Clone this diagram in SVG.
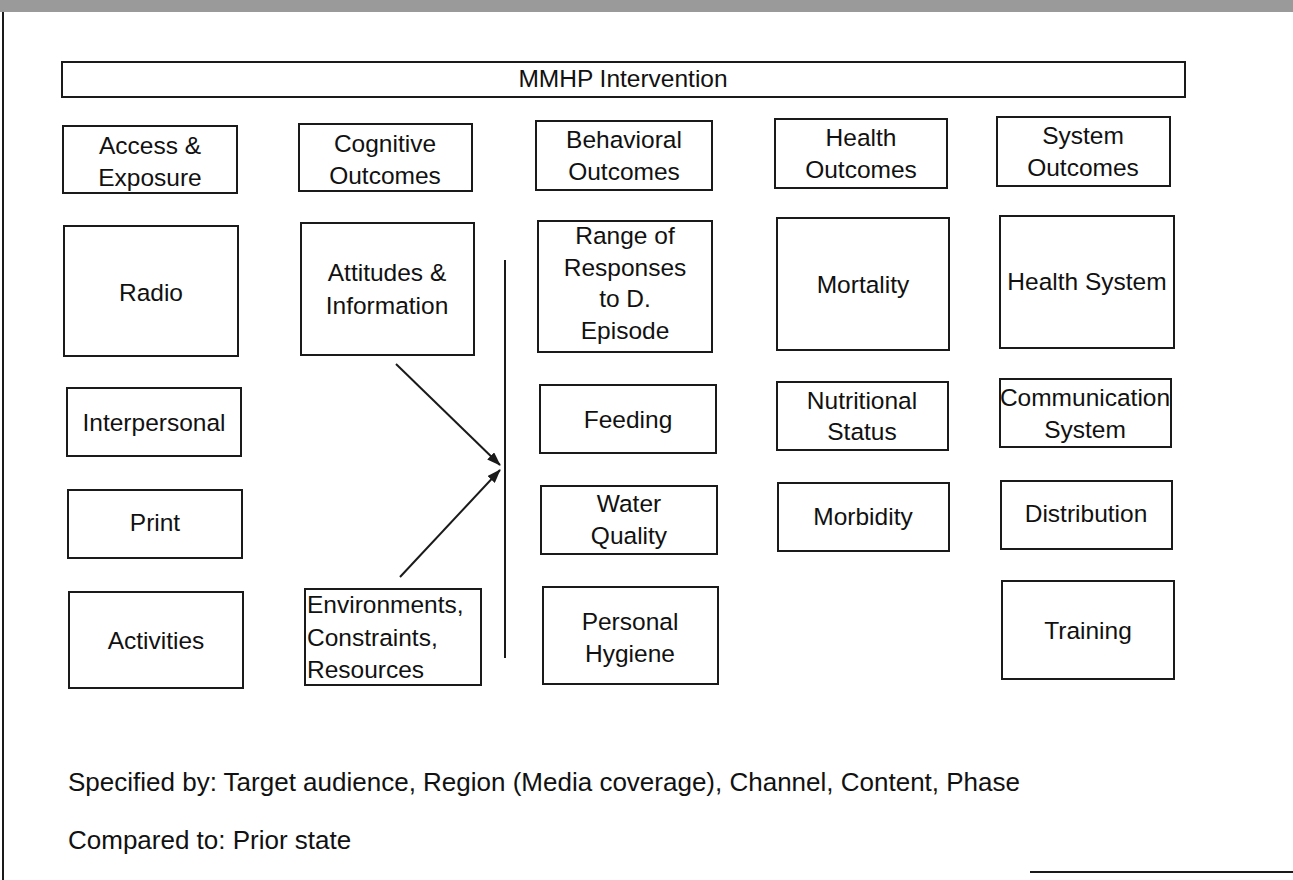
<svg xmlns="http://www.w3.org/2000/svg" width="1293" height="880" viewBox="0 0 1293 880">
<defs>
<style>
.box{fill:#fff;stroke:#1a1a1a;stroke-width:2}
text{font-family:"Liberation Sans",Arial,sans-serif;font-size:24.5px;fill:#111;text-anchor:middle}
.l{text-anchor:start}
.n{font-size:26px}
.ln{stroke:#1a1a1a;stroke-width:2;fill:none}
</style>
<marker id="ah" markerWidth="14" markerHeight="10" refX="13" refY="5" orient="auto" markerUnits="userSpaceOnUse">
<path d="M0,0 L14,5 L0,10 Z" fill="#1a1a1a"/>
</marker>
</defs>
<rect width="1293" height="880" fill="#fff"/>
<rect x="0" y="0" width="1293" height="12" fill="#9a9a9a"/>
<line x1="3" y1="12" x2="3" y2="880" class="ln" stroke-width="1.5"/>
<line x1="1030" y1="872" x2="1293" y2="872" class="ln" stroke-width="1.5"/>

<g id="mmhp"><rect class="box" x="62" y="62" width="1123" height="35"/><text x="623" y="87">MMHP Intervention</text></g>

<g id="access"><rect class="box" x="63" y="126" width="174" height="67"/><text x="150" y="154">Access &amp;</text><text x="150" y="186">Exposure</text></g>
<g id="cognitive"><rect class="box" x="299" y="124" width="173" height="67"/><text x="385" y="152">Cognitive</text><text x="385" y="184">Outcomes</text></g>
<g id="behavioral"><rect class="box" x="536" y="121" width="176" height="69"/><text x="624" y="148">Behavioral</text><text x="624" y="180">Outcomes</text></g>
<g id="health"><rect class="box" x="775" y="119" width="172" height="69"/><text x="861" y="146">Health</text><text x="861" y="178">Outcomes</text></g>
<g id="system"><rect class="box" x="997" y="117" width="173" height="69"/><text x="1083" y="144">System</text><text x="1083" y="176">Outcomes</text></g>

<g id="radio"><rect class="box" x="64" y="226" width="174" height="130"/><text x="151" y="301">Radio</text></g>
<g id="attitudes"><rect class="box" x="301" y="223" width="173" height="132"/><text x="387" y="281">Attitudes &amp;</text><text x="387" y="314">Information</text></g>
<g id="range"><rect class="box" x="538" y="221" width="174" height="131"/><text x="625" y="244">Range of</text><text x="625" y="276">Responses</text><text x="625" y="307">to D.</text><text x="625" y="339">Episode</text></g>
<g id="mortality"><rect class="box" x="777" y="218" width="172" height="132"/><text x="863" y="293">Mortality</text></g>
<g id="healthsys"><rect class="box" x="1000" y="216" width="174" height="132"/><text x="1087" y="290">Health System</text></g>

<g id="interpersonal"><rect class="box" x="67" y="388" width="174" height="68"/><text x="154" y="431">Interpersonal</text></g>
<g id="feeding"><rect class="box" x="540" y="385" width="176" height="68"/><text x="628" y="428">Feeding</text></g>
<g id="nutritional"><rect class="box" x="777" y="382" width="171" height="68"/><text x="862" y="409">Nutritional</text><text x="862" y="440">Status</text></g>
<g id="communication"><rect class="box" x="1000" y="379" width="171" height="68"/><text x="1085" y="406">Communication</text><text x="1085" y="438">System</text></g>

<g id="print"><rect class="box" x="68" y="490" width="174" height="68"/><text x="155" y="531">Print</text></g>
<g id="water"><rect class="box" x="541" y="486" width="176" height="68"/><text x="629" y="512">Water</text><text x="629" y="544">Quality</text></g>
<g id="morbidity"><rect class="box" x="778" y="483" width="171" height="68"/><text x="863" y="525">Morbidity</text></g>
<g id="distribution"><rect class="box" x="1001" y="481" width="171" height="68"/><text x="1086" y="522">Distribution</text></g>

<g id="activities"><rect class="box" x="69" y="592" width="174" height="96"/><text x="156" y="649">Activities</text></g>
<g id="environments"><rect class="box" x="305" y="589" width="176" height="96"/><text class="l" x="307" y="613">Environments,</text><text class="l" x="307" y="646">Constraints,</text><text class="l" x="307" y="678">Resources</text></g>
<g id="hygiene"><rect class="box" x="543" y="587" width="175" height="97"/><text x="630" y="630">Personal</text><text x="630" y="662">Hygiene</text></g>
<g id="training"><rect class="box" x="1002" y="581" width="172" height="98"/><text x="1088" y="639">Training</text></g>

<g id="connectors">
<line class="ln" x1="505" y1="260" x2="505" y2="658"/>
<line class="ln" x1="396" y1="364" x2="500" y2="465" marker-end="url(#ah)"/>
<line class="ln" x1="400" y1="577" x2="500" y2="470" marker-end="url(#ah)"/>
</g>

<g id="notes">
<text class="l n" x="68" y="791">Specified by: Target audience, Region (Media coverage), Channel, Content, Phase</text>
<text class="l n" x="68" y="849">Compared to: Prior state</text>
</g>
</svg>
